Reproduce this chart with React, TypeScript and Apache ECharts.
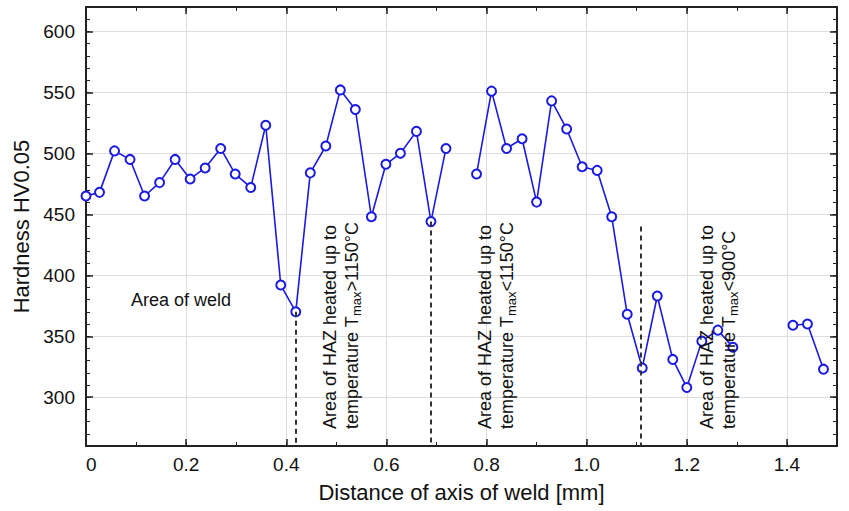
import React, { useEffect, useRef } from 'react';
import * as echarts from 'echarts';

// Distance from weld axis [mm] and measured hardness HV0.05 (null = no measurement)
const distances = [
  0, 0.027, 0.057, 0.088, 0.117, 0.147, 0.178, 0.208, 0.238, 0.269, 0.298, 0.329, 0.359,
  0.389, 0.419, 0.448, 0.479, 0.508, 0.538, 0.57, 0.599, 0.628, 0.66, 0.689, 0.719, 0.75,
  0.78, 0.81, 0.84, 0.871, 0.9, 0.93, 0.96, 0.991, 1.021, 1.05, 1.081, 1.111, 1.141, 1.172,
  1.2, 1.23, 1.262, 1.292, 1.35, 1.412, 1.441, 1.473,
];
const hardness: (number | null)[] = [
  465, 468, 502, 495, 465, 476, 495, 479, 488, 504, 483, 472, 523,
  392, 370, 484, 506, 552, 536, 448, 491, 500, 518, 444, 504, null,
  483, 551, 504, 512, 460, 543, 520, 489, 486, 448, 368, 324, 383, 331,
  308, 346, 355, 341, null, 359, 360, 323,
];

// Zone boundaries (dashed lines): x position and top value
const dividerX = [0.419, 0.689, 1.108];
const dividerTop = [370, 444, 440];

// Axis ticks
const xMajorTicks = [0, 0.2, 0.4, 0.6, 0.8, 1.0, 1.2, 1.4];
const yMajorTicks = [300, 350, 400, 450, 500, 550, 600];

// Annotation texts
const weldLabel = 'Area of weld';
const zoneLine1 = ['Area of HAZ heated up to', 'Area of HAZ heated up to', 'Area of HAZ heated up to'];
const zoneLine2 = ['temperature T{sub|max}>1150°C', 'temperature T{sub|max}<1150°C', 'temperature T{sub|max}<900°C'];
const zoneTextX = [319, 474, 696];

const FONT = '"Liberation Sans", Arial, Helvetica, sans-serif';
const BLUE = '#1a1ae0';
const AXIS_COLOR = '#222';

export default function App() {
  const ref = useRef<HTMLDivElement>(null);

  useEffect(() => {
    if (!ref.current) return;
    const chart = echarts.init(ref.current, undefined, { renderer: 'svg' });

    const seriesData = distances.map((d, i) => [d, hardness[i] === null ? '-' : hardness[i]]);

    const hiddenBase = {
      type: 'value' as const,
      axisLabel: { show: false },
      splitLine: { show: false },
    };

    const xCommon = { min: 0, max: 1.5, interval: 0.1 };
    const yCommon = { min: 260, max: 620, interval: 10 };

    const option: any = {
      animation: false,
      backgroundColor: '#fff',
      textStyle: { fontFamily: FONT },
      grid: { left: 86, right: 12, top: 7, bottom: 65, containLabel: false },
      xAxis: [
        {
          type: 'value',
          position: 'bottom',
          ...xCommon,
          name: 'Distance of axis of weld [mm]',
          nameLocation: 'middle',
          nameGap: 35,
          nameTextStyle: { fontSize: 22, color: '#111', fontFamily: FONT },
          axisLine: { show: true, onZero: false, lineStyle: { color: AXIS_COLOR, width: 2 } },
          axisTick: { show: true, inside: true, length: 7, customValues: xMajorTicks, lineStyle: { color: AXIS_COLOR, width: 1.5 } },
          axisLabel: {
            show: true,
            customValues: xMajorTicks,
            fontSize: 19,
            color: '#111',
            fontFamily: FONT,
            margin: 9,
            alignMinLabel: 'left',
            formatter: (v: number) => (v === 0 ? '0' : v.toFixed(1)),
          },
          splitLine: { show: true, lineStyle: { color: '#dedede', width: 1 } },
        },
        {
          ...hiddenBase,
          position: 'bottom',
          ...xCommon,
          axisLine: { show: false, onZero: false },
          axisTick: { show: true, inside: true, length: 4, lineStyle: { color: AXIS_COLOR, width: 1 } },
        },
        {
          ...hiddenBase,
          position: 'top',
          ...xCommon,
          axisLine: { show: true, onZero: false, lineStyle: { color: AXIS_COLOR, width: 2 } },
          axisTick: { show: true, inside: true, length: 7, customValues: xMajorTicks, lineStyle: { color: AXIS_COLOR, width: 1.5 } },
        },
        {
          ...hiddenBase,
          position: 'top',
          ...xCommon,
          axisLine: { show: false, onZero: false },
          axisTick: { show: true, inside: true, length: 4, lineStyle: { color: AXIS_COLOR, width: 1 } },
        },
      ],
      yAxis: [
        {
          type: 'value',
          position: 'left',
          ...yCommon,
          name: 'Hardness HV0.05',
          nameLocation: 'middle',
          nameGap: 48,
          nameTextStyle: { fontSize: 22, color: '#111', fontFamily: FONT },
          axisLine: { show: true, onZero: false, lineStyle: { color: AXIS_COLOR, width: 2 } },
          axisTick: { show: true, inside: true, length: 7, customValues: yMajorTicks, lineStyle: { color: AXIS_COLOR, width: 1.5 } },
          axisLabel: {
            show: true,
            customValues: yMajorTicks,
            fontSize: 19,
            color: '#111',
            fontFamily: FONT,
            margin: 11,
          },
          splitLine: { show: true, lineStyle: { color: '#dedede', width: 1 } },
        },
        {
          ...hiddenBase,
          position: 'left',
          ...yCommon,
          axisLine: { show: false, onZero: false },
          axisTick: { show: true, inside: true, length: 4, lineStyle: { color: AXIS_COLOR, width: 1 } },
        },
        {
          ...hiddenBase,
          position: 'right',
          ...yCommon,
          axisLine: { show: true, onZero: false, lineStyle: { color: AXIS_COLOR, width: 2 } },
          axisTick: { show: true, inside: true, length: 7, customValues: yMajorTicks, lineStyle: { color: AXIS_COLOR, width: 1.5 } },
        },
        {
          ...hiddenBase,
          position: 'right',
          ...yCommon,
          axisLine: { show: false, onZero: false },
          axisTick: { show: true, inside: true, length: 4, lineStyle: { color: AXIS_COLOR, width: 1 } },
        },
      ],
      series: [
        {
          type: 'line',
          xAxisIndex: 0,
          yAxisIndex: 0,
          data: seriesData,
          connectNulls: false,
          symbol: 'emptyCircle',
          symbolSize: 9,
          lineStyle: { color: BLUE, width: 1.6 },
          itemStyle: { color: BLUE, borderColor: BLUE, borderWidth: 1.6 },
          z: 3,
          markLine: {
            silent: true,
            symbol: 'none',
            label: { show: false },
            lineStyle: { type: [5, 4], color: '#333', width: 2 },
            data: dividerX.map((x, i) => [{ coord: [x, dividerTop[i]] }, { coord: [x, 260] }]),
          },
        },
      ],
      graphic: [
        {
          type: 'text',
          x: 131,
          y: 300,
          z: 10,
          style: { text: weldLabel, fontSize: 18, fontFamily: FONT, fill: '#111', align: 'left', verticalAlign: 'middle' },
        },
        ...zoneTextX.map((x, i) => ({
          type: 'text',
          x,
          y: 429,
          rotation: Math.PI / 2,
          z: 10,
          style: {
            text: zoneLine1[i] + '\n' + zoneLine2[i],
            fontSize: 18,
            fontFamily: FONT,
            lineHeight: 22,
            fill: '#111',
            align: 'left',
            verticalAlign: 'top',
            rich: {
              sub: { fontSize: 13, fontFamily: FONT, lineHeight: 13, padding: [13, 0, 0, 0], verticalAlign: 'bottom', fill: '#111' },
            },
          },
        })),
      ],
    };

    chart.setOption(option);
    return () => chart.dispose();
  }, []);

  return <div ref={ref} style={{ position: 'fixed', left: 0, top: 0, width: 849, height: 511 }} />;
}
